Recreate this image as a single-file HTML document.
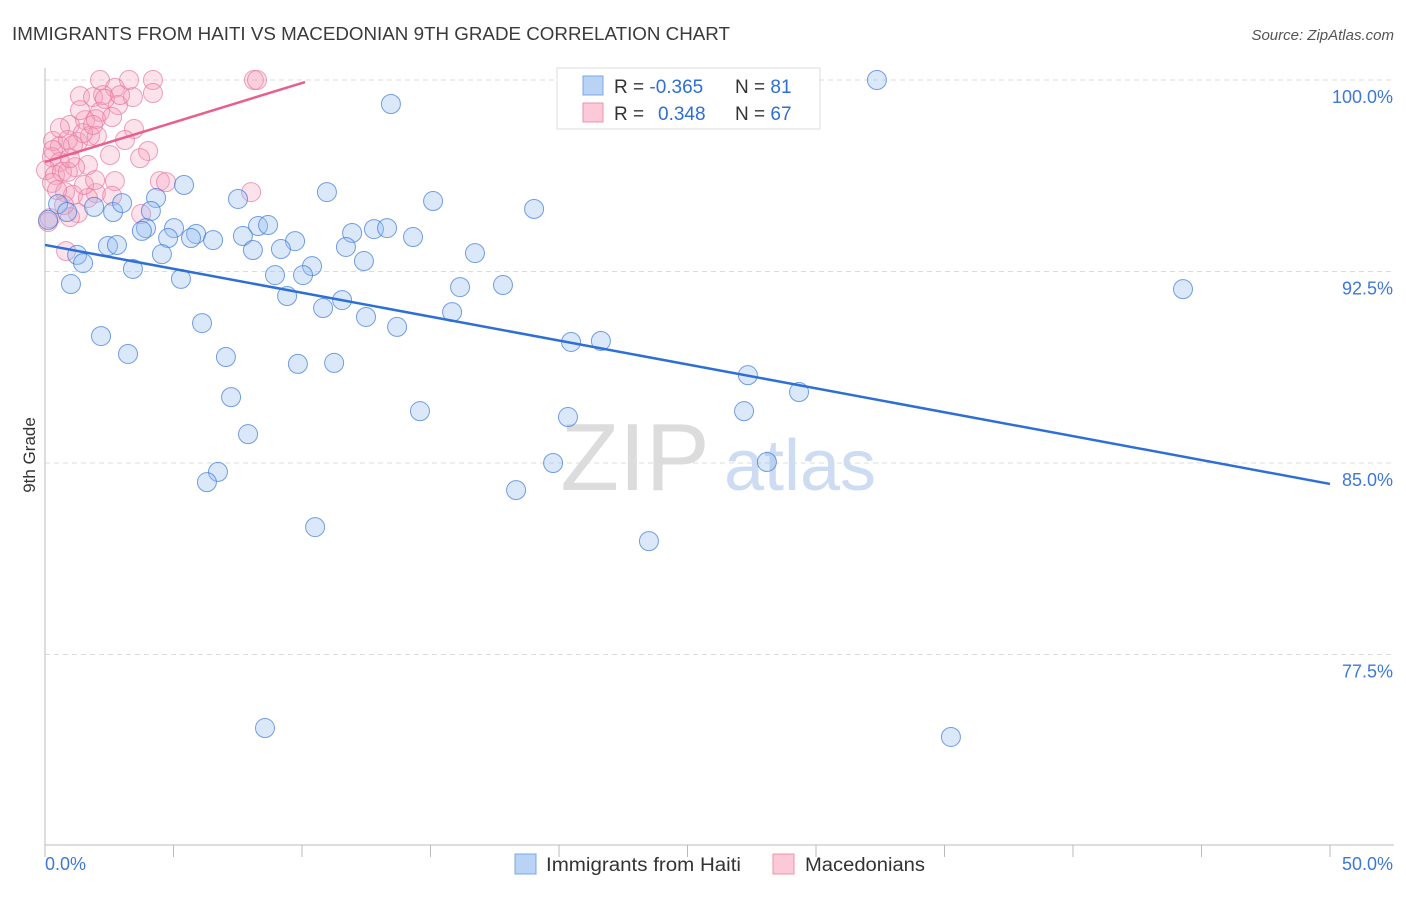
<!DOCTYPE html>
<html><head><meta charset="utf-8"><style>
body{margin:0;background:#fff;font-family:"Liberation Sans",sans-serif}
svg text{font-family:"Liberation Sans",sans-serif}
</style></head><body>
<svg id="chart" width="1406" height="892" viewBox="0 0 1406 892">
<text x="12" y="40" font-size="18" fill="#3a3a3a" textLength="718" lengthAdjust="spacingAndGlyphs">IMMIGRANTS FROM HAITI VS MACEDONIAN 9TH GRADE CORRELATION CHART</text>
<text x="1394" y="40" font-size="15" fill="#555" text-anchor="end" font-style="italic">Source: ZipAtlas.com</text>
<text x="35" y="455" font-size="17" fill="#333" transform="rotate(-90 35 455)" text-anchor="middle">9th Grade</text>
<g>
<text x="635" y="490" font-size="96" fill="#dcdcdc" font-family="Liberation Serif,serif" text-anchor="middle">ZIP</text>
<text x="800" y="490" font-size="72" fill="#cddcf2" text-anchor="middle">atlas</text>
</g>
<g id="grid"></g><g id="axes"></g><g id="pts"></g><g id="lines"></g>
<g>
<rect x="557" y="68" width="263" height="61" fill="#fff" stroke="#ddd"/>
<rect x="583" y="76" width="20" height="19" fill="#b9d3f5" stroke="#7aa7e5"/>
<rect x="583" y="103" width="20" height="19" fill="#fbc9d8" stroke="#eb93b0"/>
<text x="614" y="93" font-size="19" fill="#333">R = <tspan fill="#2d6fd4">-0.365</tspan></text>
<text x="735" y="93" font-size="19" fill="#333">N = <tspan fill="#2d6fd4"> 81</tspan></text>
<text x="614" y="120" font-size="19" fill="#333">R = <tspan fill="#2d6fd4" x="658">0.348</tspan></text>
<text x="735" y="120" font-size="19" fill="#333">N = <tspan fill="#2d6fd4">67</tspan></text>
</g>
<g>
<rect x="515" y="854" width="21" height="20" fill="#b9d3f5" stroke="#7aa7e5"/>
<text x="546" y="871" font-size="19" fill="#333" textLength="195" lengthAdjust="spacingAndGlyphs">Immigrants from Haiti</text>
<rect x="773" y="854" width="21" height="20" fill="#fbc9d8" stroke="#eb93b0"/>
<text x="805" y="871" font-size="19" fill="#333" textLength="120" lengthAdjust="spacingAndGlyphs">Macedonians</text>
</g>
</svg>
<script>
const blueX=[32.37,13.46,5.41,10.97,4.32,7.51,15.10,19.03,1.91,2.65,4.12,3.0,0.51,0.86,0.12,5.02,3.93,3.77,8.29,8.68,11.95,12.80,13.31,7.70,5.88,5.68,6.54,4.79,9.73,14.32,2.45,2.80,8.09,9.18,11.71,16.73,4.55,1.25,1.48,3.42,10.39,12.41,8.95,10.04,5.29,1.01,16.15,17.82,44.28,9.42,11.56,10.82,15.84,12.49,13.70,6.11,2.18,20.47,21.63,3.23,7.04,9.84,11.25,27.35,29.34,7.24,14.59,27.20,20.35,7.90,19.77,28.09,6.73,6.30,18.33,10.51,23.50,8.56,35.25];
const blueY=[100,99.06,95.89,95.61,95.38,95.34,95.26,94.95,95.03,94.83,94.87,95.18,95.14,94.83,94.52,94.20,94.20,94.09,94.28,94.32,94.01,94.16,94.20,93.89,93.97,93.81,93.73,93.81,93.69,93.85,93.50,93.54,93.34,93.38,93.46,93.22,93.18,93.15,92.83,92.60,92.71,92.91,92.36,92.36,92.21,92.01,91.89,91.97,91.81,91.54,91.38,91.07,90.91,90.72,90.33,90.48,89.97,89.74,89.78,89.27,89.15,88.88,88.92,88.44,87.78,87.58,87.03,87.03,86.80,86.13,85.00,85.04,84.65,84.25,83.94,82.49,81.94,74.62,74.27];
const pinkX=[2.14,3.27,4.20,8.13,8.25,2.72,1.36,1.87,2.26,4.20,3.42,2.84,2.14,0.97,1.56,1.98,2.61,3.46,3.11,0.31,0.58,1.28,0.89,1.75,2.02,4.01,3.70,0.27,0.58,1.67,1.17,0.04,0.39,0.66,0.89,0.27,2.72,4.47,4.71,8.02,0.78,1.98,1.09,2.61,1.67,1.28,3.74,0.97,0.19,0.12,0.82,1.48,2.33,0.58,0.31,0.97,1.52,0.74,1.95,2.53,0.47,1.09,1.87,1.36,2.92];
const pinkY=[100,100,100,100,100,99.69,99.37,99.33,99.41,99.49,99.33,99.02,98.75,98.24,98.43,98.47,98.55,98.08,97.65,97.61,97.41,97.57,97.65,97.81,97.81,97.22,96.94,96.98,96.79,96.67,96.59,96.47,96.28,96.40,96.40,95.97,96.04,96.04,96.00,95.61,95.61,95.57,95.50,95.46,95.38,94.79,94.75,94.63,94.59,94.44,93.30,97.92,99.26,98.12,97.26,96.94,95.89,95.10,96.08,97.06,95.69,97.45,98.24,98.82,99.41];
const blueTrend=[93.54,84.18]; // y at x=0, x=50
const pinkTrend=[96.79,99.92,10.12]; // y at x=0, y at x=end, end x
const yTicks=[100,92.5,85,77.5];
const yTickLabels=["100.0%","92.5%","85.0%","77.5%"];
const xTicks=[0,5,10,15,20,25,30,35,40,45,50];

const NS="http://www.w3.org/2000/svg";
const X0=45,X1=1330,YT=80,YB=845;
const sx=v=>X0+(v/50)*(X1-X0);
const sy=v=>YT+(100-v)/7.5*191.5;
function mk(parent,tag,attrs){const e=document.createElementNS(NS,tag);for(const k in attrs)e.setAttribute(k,attrs[k]);document.getElementById(parent).appendChild(e);return e;}
yTicks.forEach((t,i)=>{
  const g=mk('grid','line',{x1:X0,x2:1394,y1:sy(t),y2:sy(t),stroke:'#dcdcdc','stroke-dasharray':'5,4'});
  
  
  const l=mk('grid','text',{x:1393,y:sy(t)+23,'font-size':18,fill:'#3d78d8','text-anchor':'end'});
  l.textContent=yTickLabels[i];
  
  
});
const ax=mk('axes','line',{x1:X0,x2:X0,y1:68,y2:YB,stroke:'#bbb'});


const bx=mk('axes','line',{x1:X0,x2:1394,y1:YB,y2:YB,stroke:'#bbb'});


xTicks.forEach(t=>{
  const k=mk('axes','line',{x1:sx(t),x2:sx(t),y1:YB,y2:857,stroke:'#bbb'});
  
  
});
const xl0=mk('axes','text',{x:45,y:870,'font-size':18,fill:'#3d78d8'});xl0.textContent='0.0%';


const xl1=mk('axes','text',{x:1393,y:870,'font-size':18,fill:'#3d78d8','text-anchor':'end'});xl1.textContent='50.0%';


pinkX.forEach((x,i)=>{
  const c=mk('pts','circle',{cx:sx(x),cy:sy(pinkY[i]),r:9.5,fill:'rgba(246,160,190,0.3)',stroke:'rgba(232,120,160,0.7)','stroke-width':1});
  
  
});
blueX.forEach((x,i)=>{
  const c=mk('pts','circle',{cx:sx(x),cy:sy(blueY[i]),r:9.5,fill:'rgba(150,190,240,0.35)',stroke:'rgba(60,120,220,0.7)','stroke-width':1});
  
  
});
const bl=mk('lines','line',{x1:sx(0),y1:sy(blueTrend[0]),x2:sx(50),y2:sy(blueTrend[1]),stroke:'#2d6fd4','stroke-width':2.5});


const pl=mk('lines','line',{x1:sx(0),y1:sy(pinkTrend[0]),x2:sx(pinkTrend[2]),y2:sy(pinkTrend[1]),stroke:'#e8608a','stroke-width':2.5});


</script>
</body></html>
